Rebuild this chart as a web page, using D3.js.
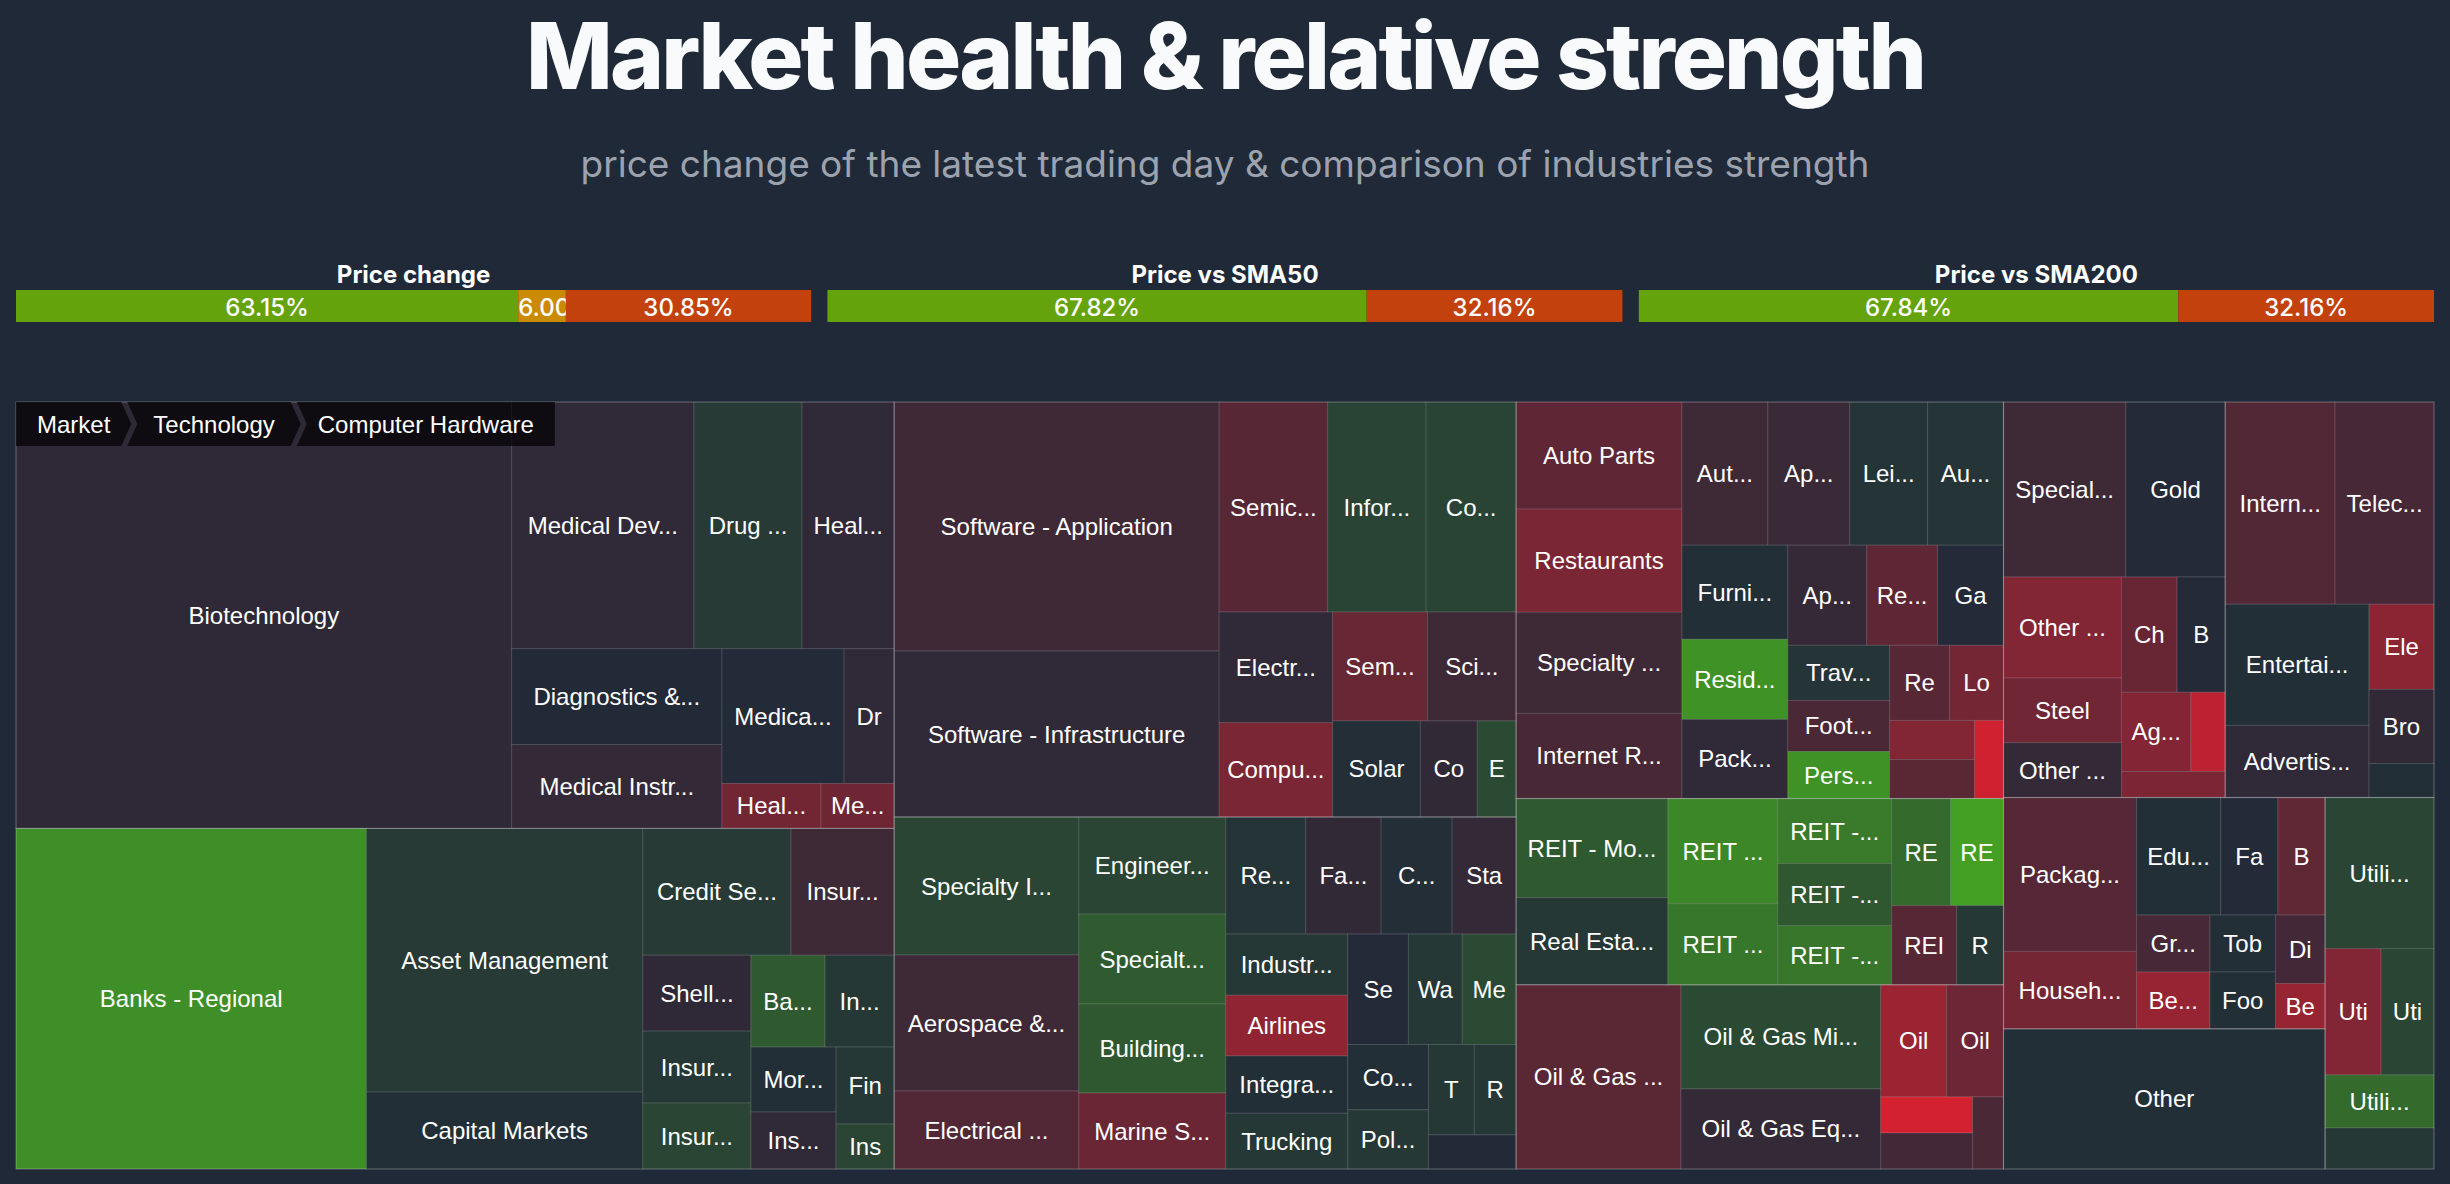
<!DOCTYPE html>
<html>
<head>
<meta charset="utf-8">
<title>Market health &amp; relative strength</title>
<script src="https://cdn.jsdelivr.net/npm/d3@7/dist/d3.min.js"></script>
<style>
  html, body { margin: 0; padding: 0; background: #1f2937; }
  svg { display: block; }
</style>
</head>
<body>
<svg id="chart" width="2450" height="1184"></svg>
<script>
// ---------------- data ----------------
const chartTitle = "Market health & relative strength";
const chartSubtitle = "price change of the latest trading day & comparison of industries strength";

const breadthTitles = ["Price change", "Price vs SMA50", "Price vs SMA200"];
const breadthUp   = [63.15, 67.82, 67.84];
const breadthFlat = [6.00, 0, 0];
const breadthDown = [30.85, 32.16, 32.16];

const sectorNames = ["Healthcare", "Financial", "Technology", "Industrials", "Consumer Cyclical",
  "Real Estate", "Energy", "Basic Materials", "Communication Services", "Consumer Defensive", "Other", "Utilities"];

// [industry, label as displayed, weight, price change %]
const healthcare = [
  ["Biotechnology", "Biotechnology", 211.37, -0.22],
  ["Medical Devices", "Medical Dev...", 44.95, -0.24],
  ["Drug Manufacturers - General", "Drug ...", 26.68, 0.41],
  ["Healthcare Plans", "Heal...", 22.72, -0.24],
  ["Diagnostics & Research", "Diagnostics &...", 20.16, 0.0],
  ["Medical Instruments & Supplies", "Medical Instr...", 17.64, -0.29],
  ["Medical Care Facilities", "Medica...", 16.47, -0.02],
  ["Drug Manufacturers - Specialty & Generic", "Dr", 6.75, -0.24],
  ["Health Information Services", "Heal...", 4.46, -1.35],
  ["Medical Distribution", "Me...", 3.29, -1.28]
];
const financial = [
  ["Banks - Regional", "Banks - Regional", 119.35, 2.57],
  ["Asset Management", "Asset Management", 72.86, 0.41],
  ["Capital Markets", "Capital Markets", 21.25, 0.13],
  ["Credit Services", "Credit Se...", 18.80, 0.41],
  ["Insurance - Property & Casualty", "Insur...", 13.08, -0.47],
  ["Shell Companies", "Shell...", 8.21, -0.22],
  ["Insurance - Diversified", "Insur...", 7.78, 0.36],
  ["Insurance - Life", "Insur...", 7.13, 0.69],
  ["Banks - Diversified", "Ba...", 6.81, 1.22],
  ["Insurance Brokers", "In...", 6.35, 0.36],
  ["Mortgage Finance", "Mor...", 5.53, 0.13],
  ["Insurance - Specialty", "Ins...", 4.85, -0.24],
  ["Financial Data & Stock Exchanges", "Fin", 4.47, 0.36],
  ["Insurance - Reinsurance", "Ins", 2.61, 0.69]
];
const technology = [
  ["Software - Application", "Software - Application", 80.93, -0.49],
  ["Software - Infrastructure", "Software - Infrastructure", 53.95, -0.24],
  ["Semiconductors", "Semic...", 22.79, -0.91],
  ["Information Technology Services", "Infor...", 20.69, 0.66],
  ["Communication Equipment", "Co...", 18.90, 0.66],
  ["Electronic Components", "Electr...", 12.54, -0.24],
  ["Computer Hardware", "Compu...", 10.70, -1.48],
  ["Semiconductor Equipment & Materials", "Sem...", 10.33, -1.16],
  ["Scientific & Technical Instruments", "Sci...", 9.65, -0.47],
  ["Solar", "Solar", 8.45, 0.10],
  ["Consumer Electronics", "Co", 5.47, -0.27],
  ["Electronics & Computer Distribution", "E", 3.74, 0.81]
];
const industrials = [
  ["Specialty Industrial Machinery", "Specialty I...", 25.46, 0.69],
  ["Aerospace & Defense", "Aerospace &...", 25.09, -0.47],
  ["Electrical Equipment & Parts", "Electrical ...", 14.39, -0.83],
  ["Engineering & Construction", "Engineer...", 14.26, 0.69],
  ["Specialty Business Services", "Specialt...", 13.23, 1.25],
  ["Building Products & Equipment", "Building...", 13.08, 1.14],
  ["Marine Shipping", "Marine S...", 11.17, -1.23],
  ["Rental & Leasing Services", "Re...", 9.36, 0.25],
  ["Farm & Heavy Construction Machinery", "Fa...", 8.83, -0.27],
  ["Conglomerates", "C...", 8.31, 0.10],
  ["Staffing & Employment Services", "Sta", 7.49, -0.30],
  ["Industrial Distribution", "Industr...", 7.46, 0.36],
  ["Airlines", "Airlines", 7.40, -1.87],
  ["Integrated Freight & Logistics", "Integra...", 7.00, 0.13],
  ["Trucking", "Trucking", 6.80, 0.36],
  ["Security & Protection Services", "Se", 6.70, -0.03],
  ["Waste Management", "Wa", 5.95, 0.36],
  ["Metal Fabrication", "Me", 5.95, 0.81],
  ["Consulting Services", "Co...", 5.27, 0.13],
  ["Pollution & Treatment Controls", "Pol...", 4.78, 0.36],
  ["Tools & Accessories", "T", 4.14, 0.36],
  ["Railroads", "R", 3.78, 0.36],
  ["Business Equipment & Supplies", "", 2.99, 0.0]
];
const consumerCyclical = [
  ["Auto Parts", "Auto Parts", 17.76, -1.03],
  ["Restaurants", "Restaurants", 17.10, -1.48],
  ["Specialty Retail", "Specialty ...", 16.77, -0.47],
  ["Internet Retail", "Internet R...", 14.11, -0.64],
  ["Auto & Truck Dealerships", "Aut...", 12.30, -0.47],
  ["Apparel Retail", "Ap...", 11.73, -0.40],
  ["Leisure", "Lei...", 11.15, 0.25],
  ["Auto Manufacturers", "Au...", 10.87, 0.25],
  ["Furnishings, Fixtures & Appliances", "Furni...", 9.96, 0.13],
  ["Residential Construction", "Resid...", 8.48, 2.64],
  ["Packaging & Containers", "Pack...", 8.37, -0.24],
  ["Apparel Manufacturing", "Ap...", 7.90, -0.34],
  ["Resorts & Casinos", "Re...", 7.10, -1.03],
  ["Gambling", "Ga", 6.60, -0.03],
  ["Travel Services", "Trav...", 5.61, 0.25],
  ["Footwear & Accessories", "Foot...", 5.20, -0.69],
  ["Personal Services", "Pers...", 4.79, 2.64],
  ["Recreational Vehicles", "Re", 4.50, -0.91],
  ["Lodging", "Lo", 4.05, -1.38],
  ["Home Improvement Retail", "", 3.32, -1.62],
  ["Department Stores", "", 3.31, -0.94],
  ["Luxury Goods", "", 2.26, -2.93]
];
const realEstate = [
  ["REIT - Mortgage", "REIT - Mo...", 15.05, 1.22],
  ["Real Estate Services", "Real Esta...", 13.22, 0.36],
  ["REIT - Industrial", "REIT ...", 11.55, 2.39],
  ["REIT - Retail", "REIT ...", 8.91, 1.95],
  ["REIT - Healthcare Facilities", "REIT -...", 7.41, 2.06],
  ["REIT - Residential", "REIT -...", 7.07, 1.14],
  ["REIT - Office", "REIT -...", 6.73, 1.93],
  ["REIT - Specialty", "RE", 6.31, 1.65],
  ["REIT - Diversified", "RE", 5.67, 3.0],
  ["REIT - Hotel & Motel", "REI", 5.14, -0.91],
  ["Real Estate - Development", "R", 3.71, 0.36]
];
const energy = [
  ["Oil & Gas E&P", "Oil & Gas ...", 30.36, -0.94],
  ["Oil & Gas Midstream", "Oil & Gas Mi...", 20.80, 0.81],
  ["Oil & Gas Equipment & Services", "Oil & Gas Eq...", 16.00, -0.30],
  ["Oil & Gas Refining & Marketing", "Oil", 7.39, -2.04],
  ["Oil & Gas Integrated", "Oil", 6.38, -1.25],
  ["Uranium", "", 3.31, -3.0],
  ["Thermal Coal", "", 3.31, -0.56],
  ["Oil & Gas Drilling", "", 2.23, -0.69]
];
const basicMaterials = [
  ["Specialty Chemicals", "Special...", 21.40, -0.47],
  ["Gold", "Gold", 17.40, -0.05],
  ["Other Industrial Metals & Mining", "Other ...", 11.92, -1.62],
  ["Steel", "Steel", 7.63, -1.31],
  ["Other Precious Metals & Mining", "Other ...", 6.46, -0.30],
  ["Chemicals", "Ch", 6.42, -1.18],
  ["Building Materials", "B", 5.55, -0.03],
  ["Agricultural Inputs", "Ag...", 5.50, -1.63],
  ["Copper", "", 2.72, -2.6],
  ["Aluminum", "", 2.70, -1.52]
];
const communication = [
  ["Internet Content & Information", "Intern...", 22.22, -0.83],
  ["Telecom Services", "Telec...", 20.00, -0.61],
  ["Entertainment", "Entertai...", 17.42, 0.13],
  ["Advertising Agencies", "Advertis...", 10.37, -0.24],
  ["Electronic Gaming & Multimedia", "Ele", 5.53, -1.79],
  ["Broadcasting", "Bro", 4.81, -0.27],
  ["Publishing", "", 2.21, 0.13]
];
const consumerDefensive = [
  ["Packaged Foods", "Packag...", 20.46, -0.88],
  ["Household & Personal Products", "Househ...", 10.30, -1.40],
  ["Education & Training Services", "Edu...", 9.90, 0.13],
  ["Farm Products", "Fa", 6.73, -0.03],
  ["Beverages - Brewers", "B", 5.55, -1.04],
  ["Grocery Stores", "Gr...", 4.19, -0.62],
  ["Beverages - Non-Alcoholic", "Be...", 4.17, -1.96],
  ["Tobacco", "Tob", 3.73, 0.13],
  ["Food Distribution", "Foo", 3.72, 0.13],
  ["Discount Stores", "Di", 3.40, -0.56],
  ["Beverages - Wineries & Distilleries", "Be", 2.25, -1.96]
];
const other = [
  ["Other", "Other", 45.08, 0.13]
];
const utilities = [
  ["Utilities - Regulated Electric", "Utili...", 16.46, 0.69],
  ["Utilities - Renewable", "Uti", 7.06, -1.62],
  ["Utilities - Regulated Gas", "Uti", 6.68, 0.69],
  ["Utilities - Diversified", "Utili...", 5.78, 1.65],
  ["Utilities - Regulated Water", "", 4.47, 0.36]
];
const sectorRows = [healthcare, financial, technology, industrials, consumerCyclical,
  realEstate, energy, basicMaterials, communication, consumerDefensive, other, utilities];

const breadcrumbLeaf = "Computer Hardware";

// ---------------- layout constants ----------------
const W = 2450, H = 1184;
const TM = { x: 16, y: 402, w: 2418, h: 767 };
const LABEL_FONT_FAMILY = "'Liberation Sans', Arial, Helvetica, sans-serif";
const LABEL_SIZE = 24;

const svg = d3.select("#chart");

// ---------------- header ----------------
svg.append("text")
  .attr("x", W / 2).attr("y", 89)
  .attr("text-anchor", "middle")
  .attr("font-family", "Inter, sans-serif")
  .attr("font-weight", 800)
  .attr("font-size", 92)
  .attr("letter-spacing", -2.8)
  .attr("fill", "#f9fafb")
  .text(chartTitle);

svg.append("text")
  .attr("x", W / 2).attr("y", 177)
  .attr("text-anchor", "middle")
  .attr("font-family", "Inter, sans-serif")
  .attr("font-weight", 400)
  .attr("font-size", 37)
  .attr("fill", "#9ca3af")
  .text(chartSubtitle);

// ---------------- breadth bars ----------------
const band = d3.scaleBand().domain(breadthTitles).range([16, 2434]).paddingInner(0.02);
const segColors = ["#65a30d", "#ca8a04", "#c2410c"];
const fmtPct = d3.format(".2f");
const defs = svg.append("defs");
const barY = 290, barH = 32;

const measureCtx = document.createElement("canvas").getContext("2d");

breadthTitles.forEach((t, i) => {
  const x0 = band(t), bw = band.bandwidth();
  const pct = d3.scaleLinear().domain([0, 100]).range([0, bw]);
  const g = svg.append("g");
  g.append("text")
    .attr("x", x0 + bw / 2).attr("y", 274)
    .attr("text-anchor", "middle").attr("dominant-baseline", "central")
    .attr("font-family", "Inter, sans-serif").attr("font-weight", 700)
    .attr("font-size", 24).attr("fill", "#ffffff")
    .text(t);
  const vals = [breadthUp[i], breadthFlat[i], breadthDown[i]];
  let acc = 0;
  vals.forEach((v, k) => {
    if (!v) return;
    const sx = x0 + pct(acc), sw = pct(acc + v) - pct(acc);
    acc += v;
    g.append("rect").attr("x", sx).attr("y", barY).attr("width", sw).attr("height", barH)
      .attr("fill", segColors[k]);
    const id = `clip-${i}-${k}`;
    defs.append("clipPath").attr("id", id).append("rect")
      .attr("x", sx).attr("y", barY).attr("width", sw).attr("height", barH);
    const label = fmtPct(v) + "%";
    measureCtx.font = "500 24px Inter, sans-serif";
    const lw = measureCtx.measureText(label).width;
    const fits = lw <= sw;
    g.append("text")
      .attr("clip-path", `url(#${id})`)
      .attr("x", fits ? sx + sw / 2 : sx)
      .attr("y", barY + barH / 2 + 1)
      .attr("text-anchor", fits ? "middle" : "start")
      .attr("dominant-baseline", "central")
      .attr("font-family", "Inter, sans-serif").attr("font-weight", 500)
      .attr("font-size", 24).attr("fill", "#ffffff")
      .text(label);
  });
});

// ---------------- treemap ----------------
const rootData = {
  name: "Market",
  children: sectorNames.map((s, i) => ({
    name: s,
    children: sectorRows[i].map(([name, label, weight, change]) => ({ name, label, weight, change }))
  }))
};

const root = d3.hierarchy(rootData)
  .sum(d => d.weight || 0)
  .sort((a, b) => b.value - a.value);

d3.treemap()
  .tile(d3.treemapSquarify)
  .size([TM.w, TM.h])
  .paddingInner(0)
  .round(false)(root);

const color = d3.scaleLinear()
  .domain([-3, 0, 3])
  .range(["#d42130", "#222a38", "#43a024"])
  .interpolate(d3.interpolateRgb)
  .clamp(true);

const tm = svg.append("g").attr("transform", `translate(${TM.x},${TM.y})`);

const leaves = root.leaves();
tm.selectAll("rect.leaf").data(leaves).join("rect")
  .attr("class", "leaf")
  .attr("x", d => d.x0).attr("y", d => d.y0)
  .attr("width", d => d.x1 - d.x0).attr("height", d => d.y1 - d.y0)
  .attr("fill", d => color(d.data.change))
  .attr("stroke", "rgba(255,255,255,0.13)")
  .attr("stroke-width", 1);

tm.selectAll("rect.sector").data(root.children).join("rect")
  .attr("class", "sector")
  .attr("x", d => d.x0).attr("y", d => d.y0)
  .attr("width", d => d.x1 - d.x0).attr("height", d => d.y1 - d.y0)
  .attr("fill", "none")
  .attr("stroke", "rgba(255,255,255,0.16)")
  .attr("stroke-width", 1.2);

tm.selectAll("text.leaf-label").data(leaves.filter(d => d.data.label)).join("text")
  .attr("class", "leaf-label")
  .attr("x", d => (d.x0 + d.x1) / 2)
  .attr("y", d => (d.y0 + d.y1) / 2)
  .attr("text-anchor", "middle")
  .attr("dominant-baseline", "central")
  .attr("font-family", LABEL_FONT_FAMILY)
  .attr("font-size", LABEL_SIZE)
  .attr("fill", "#ffffff")
  .text(d => d.data.label);

// ---------------- breadcrumb ----------------
const leafNode = leaves.find(d => d.data.name === breadcrumbLeaf);
const crumbs = leafNode.ancestors().reverse().map(d => d.data.name);
measureCtx.font = `${LABEL_SIZE}px ${LABEL_FONT_FAMILY}`;
const CR_PAD = 16, CR_GAP = 16, CR_ARROW = 10, CR_H = 44;
const bc = svg.append("g").attr("transform", `translate(${TM.x},${TM.y})`);
let lastX = 0;
crumbs.forEach((name, i) => {
  const head = i === 0, tail = i === crumbs.length - 1;
  const iw = measureCtx.measureText(name).width + CR_PAD * 2;
  const x = lastX, y = 0;
  const pts = [[head ? x : x - CR_ARROW, y], [x + iw, y], [x + iw, y + CR_H], [head ? x : x - CR_ARROW, y + CR_H]];
  if (!tail) pts.splice(2, 0, [x + iw + CR_ARROW, y + CR_H / 2]);
  if (!head) pts.push([x, y + CR_H / 2]);
  bc.append("polygon")
    .attr("points", pts.map(p => p.join(",")).join(" "))
    .attr("fill", "rgba(0,0,0,0.7)");
  const xs = pts.map(p => p[0]);
  const cx = (d3.min(xs) + d3.max(xs)) / 2;
  bc.append("text")
    .attr("x", cx).attr("y", CR_H / 2)
    .attr("text-anchor", "middle").attr("dominant-baseline", "central")
    .attr("font-family", LABEL_FONT_FAMILY).attr("font-size", LABEL_SIZE)
    .attr("fill", "#ffffff")
    .text(name);
  lastX += iw + CR_GAP;
});
</script>
</body>
</html>
